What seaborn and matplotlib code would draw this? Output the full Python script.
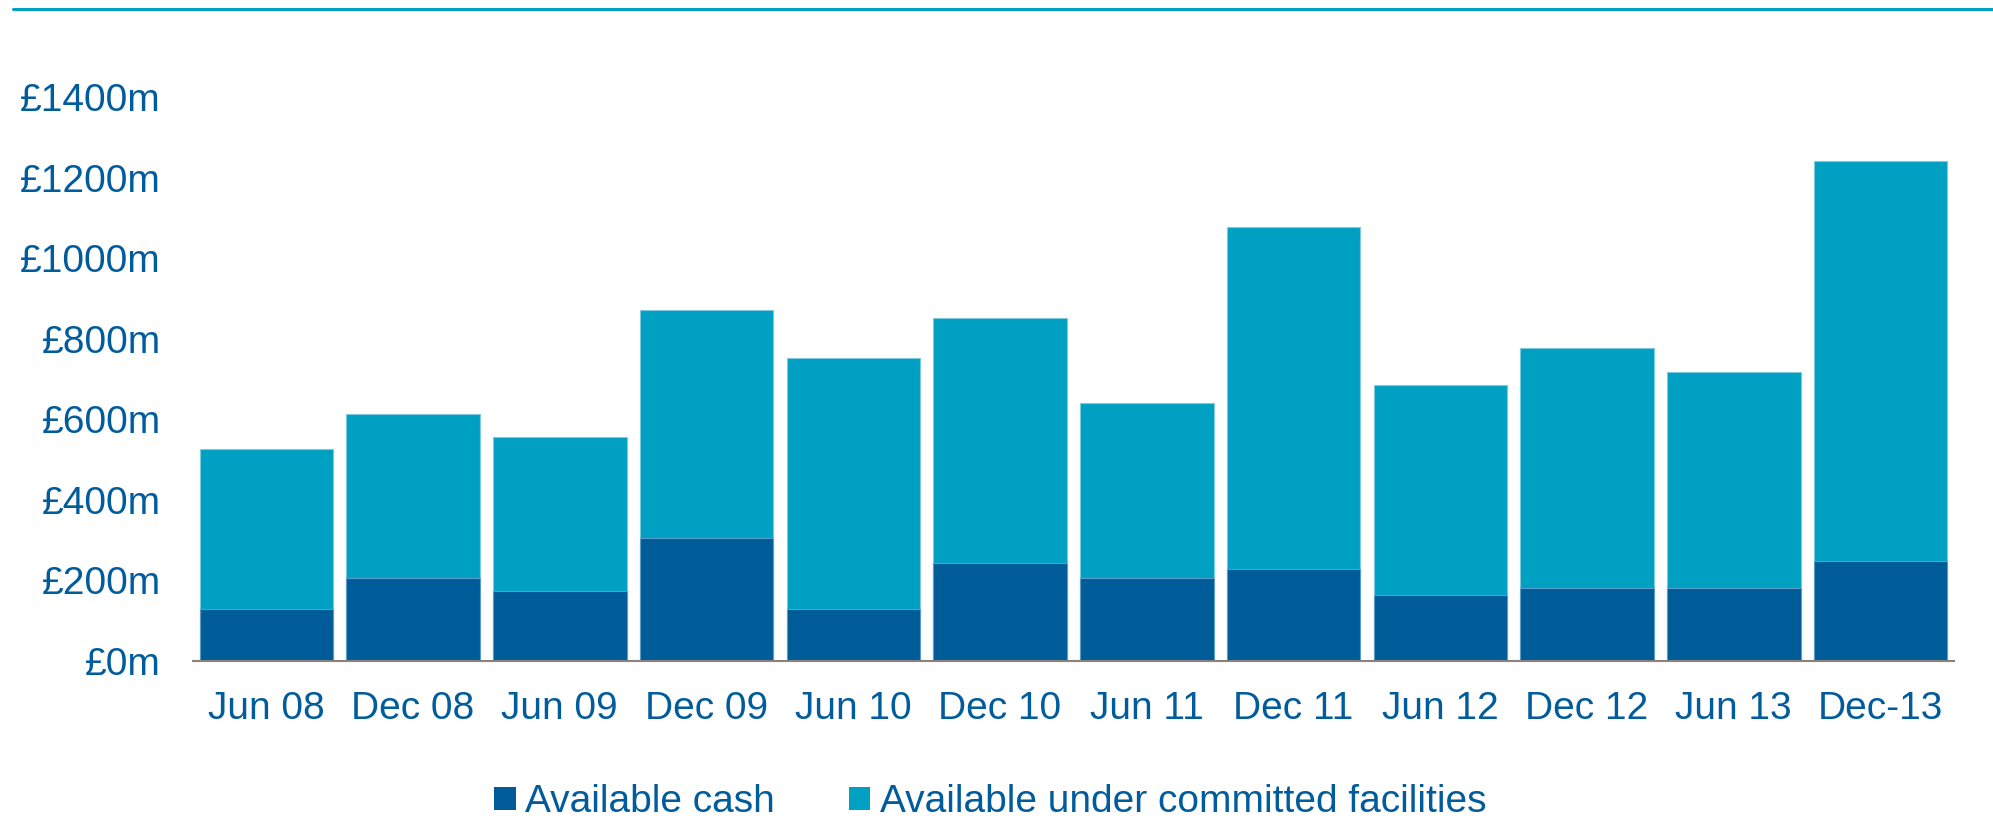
import matplotlib
matplotlib.use("Agg")
import matplotlib.pyplot as plt
from matplotlib.lines import Line2D
from matplotlib.patches import Patch
import numpy as np
import pandas as pd
import seaborn as sns

# Half-year reporting dates
periods = ["Jun 08", "Dec 08", "Jun 09", "Dec 09", "Jun 10", "Dec 10",
           "Jun 11", "Dec 11", "Jun 12", "Dec 12", "Jun 13", "Dec-13"]
# Liquidity headroom, £m
available_cash = [129, 205, 173, 306, 129, 243, 205, 227, 164, 180, 180, 249]
committed_facilities = [398, 407, 382, 565, 622, 609, 435, 849, 521, 596, 536, 991]
y_ticks = [0, 200, 400, 600, 800, 1000, 1200, 1400]
series_names = ["Available cash", "Available under committed facilities"]

DARK = "#005C99"
CYAN = "#00A0C3"
TEXT = "#005C9C"

df = pd.DataFrame({
    "period": periods,
    "cash": available_cash,
    "facilities": committed_facilities,
})
df["total"] = df["cash"] + df["facilities"]

sns.set_theme(style="white")
plt.rcParams["font.family"] = ["Liberation Sans", "DejaVu Sans"]

fig = plt.figure(figsize=(19.93, 8.22), dpi=100)
ax = fig.add_axes([0.0968, 0.196, 0.8836, 0.686])

# Stacked bars: full height in cyan, cash portion drawn over it in dark blue
sns.barplot(data=df, x="period", y="total", color=CYAN, saturation=1,
            width=0.91, edgecolor="#7FC9DE", linewidth=0.8, ax=ax)
sns.barplot(data=df, x="period", y="cash", color=DARK, saturation=1,
            width=0.91, edgecolor="#5B9BC8", linewidth=0.8, ax=ax)

ax.set_xlim(-0.5, len(periods) - 0.5)
ax.set_ylim(0, 1400)
ax.set_yticks(y_ticks)
ax.set_yticklabels([f"£{v}m" for v in y_ticks])
ax.set_xlabel("")
ax.set_ylabel("")
ax.tick_params(axis="both", length=0, labelsize=28, labelcolor=TEXT)
ax.tick_params(axis="y", pad=23)
ax.tick_params(axis="x", pad=22)

for side in ["top", "right", "left"]:
    ax.spines[side].set_visible(False)
ax.spines["bottom"].set_color("#8C8078")
ax.spines["bottom"].set_linewidth(1.5)
ax.grid(False)

handles = [Patch(facecolor=DARK, edgecolor="none"),
           Patch(facecolor=CYAN, edgecolor="none")]
fig.legend(handles, series_names, loc="center", bbox_to_anchor=(0.497, 0.024),
           ncol=2, frameon=False, fontsize=28, labelcolor=TEXT,
           handlelength=0.55, handleheight=0.55, handletextpad=0.25,
           columnspacing=1.9)

# Rule across the top of the slide
fig.add_artist(Line2D([0.0065, 1.0], [0.989, 0.989], transform=fig.transFigure,
                      color="#00A0C3", linewidth=2.2))

fig.savefig("out.png", dpi=100)
